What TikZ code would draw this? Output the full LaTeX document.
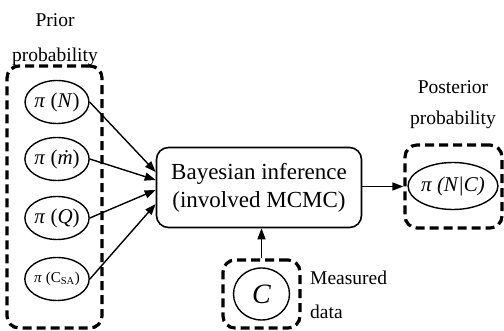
\documentclass[tikz,border=0pt]{standalone}
\usepackage{fontspec}
\setmainfont{Liberation Serif}
\usetikzlibrary{arrows.meta,shapes.geometric}
\begin{document}
\begin{tikzpicture}[x=1pt,y=-1pt,
  lab/.style={font=\fontsize{19.5}{22}\selectfont, inner sep=0pt},
  pnode/.style={draw, line width=1.4pt, ellipse, minimum width=55pt, minimum height=43pt, inner sep=0pt, font=\fontsize{21}{22}\selectfont},
  dbox/.style={draw, line width=3.2pt, dash pattern=on 9pt off 5pt, rounded corners=12pt, inner sep=0pt},
  arr/.style={line width=1.4pt, -{Triangle[length=11pt,width=8pt]}}]
\useasboundingbox (0,0) rectangle (504,331);
% prior
\node[dbox, minimum width=95pt, minimum height=262pt] (pbox) at (54.5,197) {};
\node[lab] (prior) at (55,20) {Prior};
\node[lab] (priorp) at (55,57) {probability};
\node[pnode] (n1) at (57,102) {\textit{π} (\textit{N})};
\node[pnode] (n2) at (57,159) {\textit{π} (\textit{ṁ})};
\node[pnode] (n3) at (57,218) {\textit{π} (\textit{Q})};
\node[pnode, font=\fontsize{15}{16}\selectfont] (n4) at (57,279) {\textit{π} (C\textsubscript{SA})};
% bayes
\node[draw, line width=1.6pt, rounded corners=12pt, minimum width=205pt, minimum height=80pt, align=center, font=\fontsize{23}{28}\selectfont] (bayes) at (259,187.5) {Bayesian inference\\(involved MCMC)};
\coordinate (t1) at ([yshift=15.5pt]bayes.west);
\coordinate (t2) at ([yshift=7.5pt]bayes.west);
\coordinate (t3) at ([yshift=-2.5pt]bayes.west);
\coordinate (t4) at ([yshift=-16.5pt]bayes.west);
\draw[arr] (n1.east) -- (t1);
\draw[arr] (n2.east) -- (t2);
\draw[arr] (n3.east) -- (t3);
\draw[arr] (n4.east) -- (t4);
% posterior
\node[dbox, minimum width=97pt, minimum height=83pt] (postbox) at (453.5,186.5) {};
\node[pnode, minimum width=82pt, minimum height=47pt] (post) at (453,186) {\textit{π (N|C)}};
\node[lab] (postl) at (453,87) {Posterior};
\node[lab] (postp) at (453,120) {probability};
\draw[arr] (bayes.east |- postbox.west) -- (postbox.west);
% measured
\node[dbox, minimum width=77pt, minimum height=68pt] (cbox) at (261.5,294) {};
\node[pnode, minimum width=56pt, minimum height=52pt, font=\fontsize{28}{30}\selectfont] (c) at (261.5,294) {\textit{C}};
\draw[arr] (cbox.north) -- (bayes.south -| cbox.north);
\node[lab, anchor=west] (meas) at (310,278) {Measured};
\node[lab, anchor=west] (data) at (310,312) {data};
\end{tikzpicture}
\end{document}
